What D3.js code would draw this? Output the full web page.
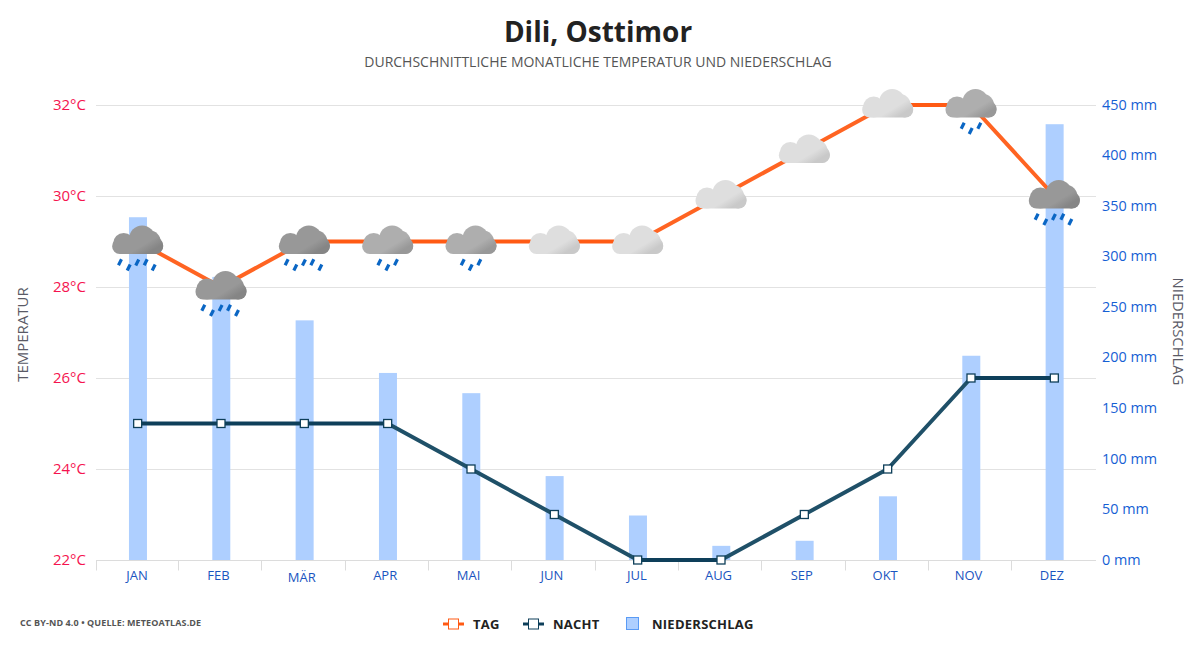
<!DOCTYPE html>
<html>
<head>
<meta charset="utf-8">
<script src="https://cdn.jsdelivr.net/npm/d3@7"></script>
<style>
    html, body { margin: 0; background: #fff; }
    text { font-family: "Open Sans", "Noto Sans", sans-serif; }
</style>
</head>
<body>
<svg id="chart" width="1200" height="650"></svg>
<script>
var months = ["JAN", "FEB", "MÄR", "APR", "MAI", "JUN", "JUL", "AUG", "SEP", "OKT", "NOV", "DEZ"];
var tempDay = [29, 28, 29, 29, 29, 29, 29, 30, 31, 32, 32, 30];
var tempNight = [25, 25, 25, 25, 24, 23, 22, 22, 23, 24, 26, 26];
var precip = [339, 280, 237, 185, 165, 83, 44, 14, 19, 63, 202, 431];
// 0 = dry light cloud, 3 / 5 = number of rain drops
var rainDrops = [5, 5, 5, 3, 3, 0, 0, 0, 0, 0, 3, 5];
var tempTicks = [22, 24, 26, 28, 30, 32];
var precipTicks = [0, 50, 100, 150, 200, 250, 300, 350, 400, 450];

var svg = d3.select("#chart");
var left = 96, right = 1096, top_ = 105, bottom = 560;

var x = d3.scaleBand().domain(months).range([left, right]);
var yTemp = d3.scaleLinear().domain([22, 32]).range([bottom, top_]);
var yPrecip = d3.scaleLinear().domain([0, 450]).range([bottom, top_]);
var cx = function (d, i) { return x(months[i]) + x.bandwidth() / 2; };

// cloud shades
var defs = svg.append("defs");
var shades = { 0: ["#dedede", "#c9c9c9"], 3: ["#aeaeae", "#989898"], 5: ["#989898", "#858585"] };
Object.keys(shades).forEach(function (k) {
    var g = defs.append("linearGradient")
        .attr("id", "cloud" + k)
        .attr("gradientUnits", "userSpaceOnUse")
        .attr("x1", -6).attr("y1", -10).attr("x2", 8).attr("y2", 13);
    g.append("stop").attr("offset", "0").attr("stop-color", shades[k][0]);
    g.append("stop").attr("offset", "0.65").attr("stop-color", shades[k][0]);
    g.append("stop").attr("offset", "1").attr("stop-color", shades[k][1]);
});

// grid
svg.append("g").selectAll("line").data(tempTicks.slice(1)).enter().append("line")
    .attr("x1", left).attr("x2", right)
    .attr("y1", function (d) { return yTemp(d) + 0.5; })
    .attr("y2", function (d) { return yTemp(d) + 0.5; })
    .attr("stroke", "#e2e2e2");

// bars
svg.append("g").selectAll("rect").data(precip).enter().append("rect")
    .attr("x", function (d, i) { return cx(d, i) - 8.7; })
    .attr("width", 18)
    .attr("y", function (d) { return yPrecip(d); })
    .attr("height", function (d) { return bottom - yPrecip(d); })
    .attr("fill", "#aecfff");

// x axis, ticks sit on the band edges
var xAxis = svg.append("g").attr("transform", "translate(0," + (bottom + 0.5) + ")");
xAxis.append("line").attr("x1", left).attr("x2", right).attr("stroke", "#dcdcdc");
xAxis.selectAll(".tick").data(months).enter().append("line")
    .attr("class", "tick")
    .attr("x1", function (d, i) { return Math.floor(left + i * x.step() - (i ? 1 : 0)) + 0.5; })
    .attr("x2", function (d, i) { return Math.floor(left + i * x.step() - (i ? 1 : 0)) + 0.5; })
    .attr("y2", 10)
    .attr("stroke", "#dcdcdc");
xAxis.selectAll(".mon").data(months).enter().append("text")
    .attr("class", "mon")
    .attr("x", function (d, i) { return cx(d, i) + (d === "JAN" || d === "JUL" ? -0.7 : -2.5); })
    .attr("y", function (d) { return d === "MÄR" ? 21 : 19.5; })
    .attr("text-anchor", "middle")
    .attr("font-size", 13)
    .attr("fill", "#1a55c0")
    .text(function (d) { return d; });

// left axis
var axisL = d3.axisLeft(yTemp).tickValues(tempTicks).tickSize(0).tickPadding(0)
    .tickFormat(function (d) { return d + "°C"; });
svg.append("g").attr("transform", "translate(86,0)").call(axisL)
    .call(function (g) { g.select(".domain").remove(); })
    .selectAll("text")
    .attr("font-size", 15)
    .attr("font-family", "\"Open Sans\", sans-serif")
    .attr("fill", "#f5134f");

// right axis
var axisR = d3.axisRight(yPrecip).tickValues(precipTicks).tickSize(0).tickPadding(0)
    .tickFormat(function (d) { return d + " mm"; });
svg.append("g").attr("transform", "translate(1102,-0.4)").call(axisR)
    .call(function (g) { g.select(".domain").remove(); })
    .selectAll("text")
    .attr("font-size", 14.4)
    .attr("font-family", "\"Open Sans\", sans-serif")
    .attr("fill", "#1560d4");

// lines, sloped parts come out a bit paler in the original
var drawLine = function (values, flat, sloped) {
    svg.append("g").selectAll("path").data(d3.pairs(values.map(function (v, i) {
        return [cx(v, i), yTemp(v)];
    }))).enter().append("path")
        .attr("d", function (p) { return d3.line()(p); })
        .attr("fill", "none")
        .attr("stroke-width", 4)
        .attr("stroke-linecap", "round")
        .attr("stroke", function (p) { return p[0][1] === p[1][1] ? flat : sloped; });
};
drawLine(tempDay, "#ff5a14", "#ff6422");
drawLine(tempNight, "#0e3f5a", "#1f5068");

svg.append("g").selectAll("rect").data(tempNight).enter().append("rect")
    .attr("x", function (d, i) { return cx(d, i) - 4; })
    .attr("y", function (d) { return yTemp(d) - 4; })
    .attr("width", 8).attr("height", 8)
    .attr("fill", "#fff").attr("stroke", "#0e3f5a").attr("stroke-width", 1.3);

// weather icons on the day line
var icons = svg.append("g").selectAll("g").data(tempDay).enter().append("g")
    .attr("transform", function (d, i) { return "translate(" + cx(d, i) + "," + yTemp(d) + ")"; });
icons.each(function (d, i) {
    var g = d3.select(this), n = rainDrops[i], fill = "url(#cloud" + n + ")";
    g.append("circle").attr("cx", 4.5).attr("cy", -3).attr("r", 13).attr("fill", fill);
    g.append("circle").attr("cx", 12).attr("cy", 0).attr("r", 11).attr("fill", fill);
    g.append("circle").attr("cx", -14).attr("cy", 2).attr("r", 10.5).attr("fill", fill);
    g.append("circle").attr("cx", 17).attr("cy", 4).attr("r", 8.5).attr("fill", fill);
    g.append("rect").attr("x", -25.5).attr("y", -3).attr("width", 51).attr("height", 15.5)
        .attr("rx", 7.5).attr("fill", fill);
    var drops = n === 5 ? [[-17.7, 20.7], [-9, 26], [-0.4, 21], [8, 20.7], [16, 26]]
        : n === 3 ? [[-8.3, 20.7], [-0.3, 26], [8.3, 20.7]] : [];
    drops.forEach(function (p) {
        g.append("line")
            .attr("x1", p[0] - 1.5).attr("y1", p[1] + 3)
            .attr("x2", p[0] + 1.5).attr("y2", p[1] - 3)
            .attr("stroke", "#0a66c4").attr("stroke-width", 3.2);
    });
});

// titles
svg.append("text").attr("x", 598).attr("y", 42).attr("text-anchor", "middle")
    .attr("font-size", 28).attr("font-weight", 700).attr("fill", "#222").text("Dili, Osttimor");
svg.append("text").attr("x", 598).attr("y", 67).attr("text-anchor", "middle")
    .attr("font-size", 14).attr("fill", "#555").text("DURCHSCHNITTLICHE MONATLICHE TEMPERATUR UND NIEDERSCHLAG");
svg.append("text").attr("transform", "translate(28,334.5) rotate(-90)").attr("text-anchor", "middle")
    .attr("font-size", 15).attr("fill", "#5a5a66").text("TEMPERATUR");
svg.append("text").attr("transform", "translate(1173,331.5) rotate(90)").attr("text-anchor", "middle")
    .attr("font-size", 14.8).attr("fill", "#5a5a66").text("NIEDERSCHLAG");
svg.append("text").attr("x", 20).attr("y", 626)
    .attr("font-size", 9).attr("font-weight", 700).attr("letter-spacing", 0.1).attr("fill", "#555")
    .text("CC BY-ND 4.0 • QUELLE: METEOATLAS.DE");

// legend
var legendY = 624;
var legend = svg.append("g");
[["TAG", "#ff5a14", 443, 473], ["NACHT", "#0e3f5a", 523, 553]].forEach(function (l) {
    legend.append("line").attr("x1", l[2]).attr("x2", l[2] + 21).attr("y1", legendY).attr("y2", legendY)
        .attr("stroke", l[1]).attr("stroke-width", 3);
    legend.append("rect").attr("x", l[2] + 5.5).attr("y", legendY - 5).attr("width", 10).attr("height", 10)
        .attr("fill", "#fff").attr("stroke", l[1]);
    legend.append("text").attr("x", l[3]).attr("y", legendY + 5)
        .attr("font-size", 13).attr("font-weight", 700).attr("letter-spacing", 0.25).attr("fill", "#222").text(l[0]);
});
legend.append("rect").attr("x", 626.5).attr("y", 617.5).attr("width", 12).attr("height", 12)
    .attr("fill", "#aecfff").attr("stroke", "#5a9bf5");
legend.append("text").attr("x", 652).attr("y", legendY + 5)
    .attr("font-size", 13).attr("font-weight", 700).attr("letter-spacing", 0.25).attr("fill", "#222").text("NIEDERSCHLAG");
</script>
</body>
</html>
